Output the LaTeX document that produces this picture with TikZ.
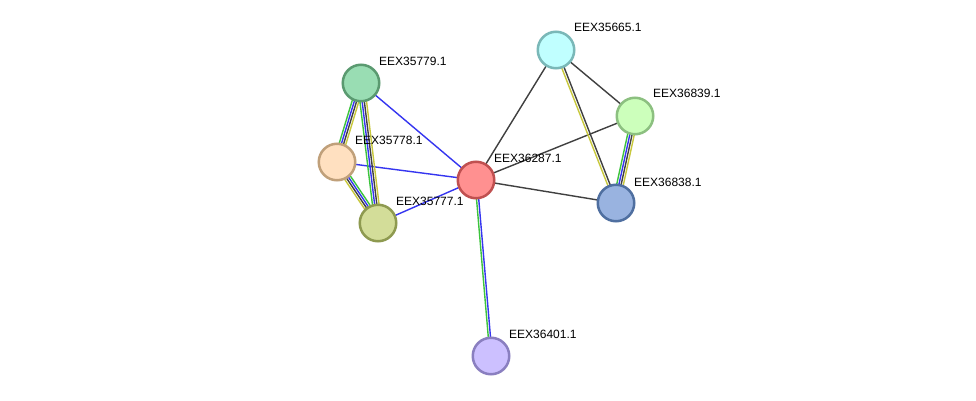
\documentclass[tikz,border=0pt]{standalone}
\usepackage{fontspec}
\setmainfont{Liberation Sans}
\usetikzlibrary{calc,backgrounds}
\definecolor{eg}{HTML}{3DC43D}
\definecolor{eb}{HTML}{3535F0}
\definecolor{ek}{HTML}{404040}
\definecolor{ey}{HTML}{C8C83C}
\tikzset{
  prot/.style={circle, minimum size=36.5pt, inner sep=0pt, line width=2.5pt},
  lbl/.style={anchor=base west, font=\fontsize{12}{14}\selectfont, inner sep=0pt},
  edg/.style={line width=1.4pt},
}
\newcommand\sedge[4]{\draw[edg,#4] ($(#1.center)!#3!-90:(#2.center)$) -- ($(#2.center)!#3!90:(#1.center)$);}
\begin{document}
\begin{tikzpicture}[x=1pt,y=-1pt]
\useasboundingbox (0,0) rectangle (976,401);
\node[prot, fill={rgb,255:red,255;green,144;blue,144}, draw={rgb,255:red,192;green,80;blue,80}] (n36287) at (476,180) {};
\node[prot, fill={rgb,255:red,192;green,255;blue,255}, draw={rgb,255:red,122;green,184;blue,184}] (n35665) at (556,50) {};
\node[prot, fill={rgb,255:red,204;green,255;blue,187}, draw={rgb,255:red,140;green,192;blue,128}] (n36839) at (635,116) {};
\node[prot, fill={rgb,255:red,153;green,179;blue,224}, draw={rgb,255:red,79;green,111;blue,160}] (n36838) at (616,203) {};
\node[prot, fill={rgb,255:red,153;green,221;blue,179}, draw={rgb,255:red,90;green,154;blue,112}] (n35779) at (361,83) {};
\node[prot, fill={rgb,255:red,255;green,224;blue,192}, draw={rgb,255:red,192;green,160;blue,122}] (n35778) at (337,162) {};
\node[prot, fill={rgb,255:red,211;green,221;blue,153}, draw={rgb,255:red,142;green,154;blue,80}] (n35777) at (378,223) {};
\node[prot, fill={rgb,255:red,204;green,192;blue,255}, draw={rgb,255:red,138;green,127;blue,192}] (n36401) at (491,356) {};
\begin{pgfonlayer}{background}
\fill[white] (0,0) rectangle (976,401);
% blue single
\sedge{n35779}{n36287}{0pt}{eb}
\sedge{n35778}{n36287}{0pt}{eb}
\sedge{n35777}{n36287}{0pt}{eb}
% black single
\sedge{n36287}{n35665}{0pt}{ek}
\sedge{n36287}{n36839}{0pt}{ek}
\sedge{n36287}{n36838}{0pt}{ek}
\sedge{n35665}{n36839}{0pt}{ek}
% 36287 - 36401
\sedge{n36287}{n36401}{-1.1pt}{eb}
\sedge{n36287}{n36401}{1.1pt}{eg}
% 35665 - 36838
\sedge{n35665}{n36838}{-1.2pt}{ek}
\sedge{n35665}{n36838}{1.2pt}{ey}
% 36839 - 36838
\sedge{n36839}{n36838}{3.3pt}{eg}
\sedge{n36839}{n36838}{1.1pt}{eb}
\sedge{n36839}{n36838}{-1.1pt}{ek}
\sedge{n36839}{n36838}{-3.3pt}{ey}
% 35779 - 35778
\sedge{n35779}{n35778}{3.3pt}{eg}
\sedge{n35779}{n35778}{1.1pt}{eb}
\sedge{n35779}{n35778}{-1.1pt}{ek}
\sedge{n35779}{n35778}{-3.3pt}{ey}
% 35779 - 35777
\sedge{n35779}{n35777}{3.3pt}{eg}
\sedge{n35779}{n35777}{1.1pt}{eb}
\sedge{n35779}{n35777}{-1.1pt}{ek}
\sedge{n35779}{n35777}{-3.3pt}{ey}
% 35778 - 35777
\sedge{n35777}{n35778}{3.3pt}{eg}
\sedge{n35777}{n35778}{1.1pt}{eb}
\sedge{n35777}{n35778}{-1.1pt}{ek}
\sedge{n35777}{n35778}{-3.3pt}{ey}
\end{pgfonlayer}
\node[lbl] (l36287) at (494,162) {EEX36287.1};
\node[lbl] (l35665) at (574,32) {EEX35665.1};
\node[lbl] (l36839) at (653,98) {EEX36839.1};
\node[lbl] (l36838) at (634,186) {EEX36838.1};
\node[lbl] (l35779) at (379,65.5) {EEX35779.1};
\node[lbl] (l35778) at (355,144) {EEX35778.1};
\node[lbl] (l35777) at (396,205) {EEX35777.1};
\node[lbl] (l36401) at (509,338) {EEX36401.1};
\end{tikzpicture}
\end{document}
